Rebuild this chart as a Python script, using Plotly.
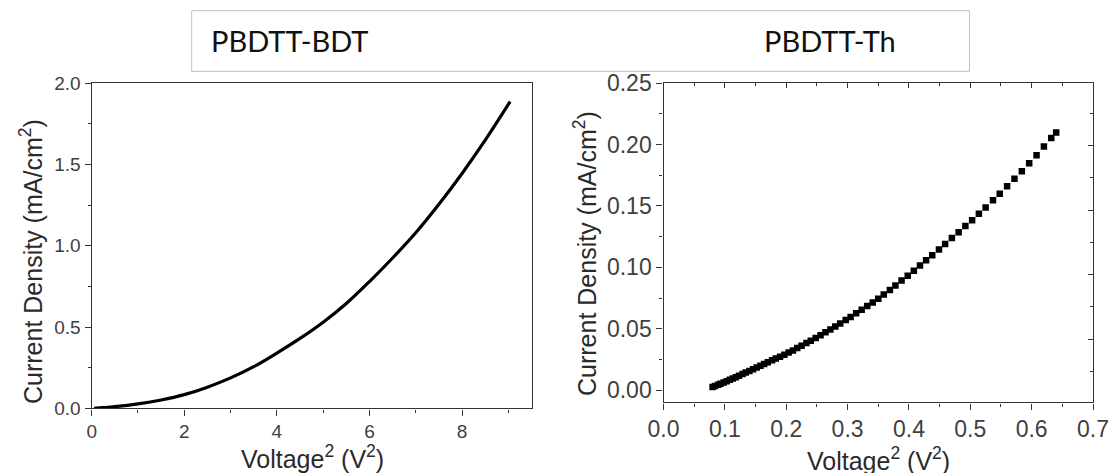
import plotly.graph_objects as go

W, H = 1112, 473

# ---- data: PBDTT-BDT (left panel) ----
bdt_x = [0.05, 0.25, 0.5, 1.0, 1.5, 2.0, 2.5, 3.0, 3.5, 4.0, 4.5, 5.0, 5.5, 6.0,
         6.5, 7.0, 7.5, 8.0, 8.5, 9.0, 9.04]
bdt_y = [0.0, 0.004, 0.010, 0.027, 0.051, 0.084, 0.130, 0.187, 0.256, 0.340, 0.430,
         0.530, 0.645, 0.780, 0.925, 1.080, 1.255, 1.445, 1.650, 1.870, 1.887]

# ---- data: PBDTT-Th (right panel) ----
th_x = [0.080, 0.084, 0.089, 0.093, 0.098, 0.103, 0.108, 0.113, 0.118, 0.123,
        0.129, 0.134, 0.140, 0.146, 0.152, 0.158, 0.164, 0.170, 0.177, 0.183,
        0.190, 0.197, 0.204, 0.211, 0.218, 0.225, 0.233, 0.240, 0.248, 0.256,
        0.264, 0.272, 0.280, 0.288, 0.297, 0.305, 0.314, 0.323, 0.332, 0.341,
        0.350, 0.359, 0.369, 0.378, 0.388, 0.398, 0.408, 0.418, 0.428, 0.438,
        0.449, 0.459, 0.470, 0.481, 0.492, 0.503, 0.514, 0.525, 0.537, 0.548,
        0.560, 0.572, 0.584, 0.596, 0.608, 0.620, 0.632, 0.640]
th_y = [0.0025, 0.0033, 0.0043, 0.0051, 0.0061, 0.0072, 0.0083, 0.0094, 0.0105, 0.0116,
        0.0130, 0.0142, 0.0156, 0.0170, 0.0184, 0.0198, 0.0212, 0.0226, 0.0242, 0.0256,
        0.0272, 0.0288, 0.0305, 0.0323, 0.0342, 0.0361, 0.0383, 0.0402, 0.0424, 0.0447,
        0.0470, 0.0494, 0.0518, 0.0543, 0.0570, 0.0596, 0.0625, 0.0655, 0.0684, 0.0714,
        0.0745, 0.0778, 0.0816, 0.0852, 0.0892, 0.0932, 0.0973, 0.1015, 0.1057, 0.1099,
        0.1146, 0.1190, 0.1239, 0.1287, 0.1336, 0.1384, 0.1436, 0.1488, 0.1546, 0.1600,
        0.1660, 0.1722, 0.1784, 0.1848, 0.1914, 0.1984, 0.2054, 0.2100]

panel_titles = ["PBDTT-BDT", "PBDTT-Th"]
x_title = "Voltage<sup>2</sup> (V<sup>2</sup>)"
y_title = "Current Density (mA/cm<sup>2</sup>)"

AX = "#333333"
TK = "#404040"
FONT = "Liberation Sans, Arial, sans-serif"


def px_x(p):
    return p / W


def px_y(p):
    return (H - p) / H


fig = go.Figure()
fig.add_trace(go.Scatter(x=bdt_x, y=bdt_y, mode="lines", line=dict(color="black", width=3.2, shape="spline"),
                         xaxis="x", yaxis="y", showlegend=False))
fig.add_trace(go.Scatter(x=th_x, y=th_y, mode="markers",
                         marker=dict(symbol="square", size=6.5, color="black", line=dict(width=0)),
                         xaxis="x2", yaxis="y2", showlegend=False))

dom1x = [px_x(91.7), px_x(531.5)]
dom1y = [px_y(408.3), px_y(83.3)]
dom2x = [px_x(663.5), px_x(1093.0)]
dom2y = [px_y(402.3), px_y(83.3)]

common = dict(showgrid=False, zeroline=False, showline=True, linecolor=AX, linewidth=1.4,
              mirror=True, ticks="outside", tickcolor=AX, tickwidth=1.2, ticklen=6)

fig.update_layout(
    width=W, height=H, margin=dict(l=0, r=0, t=0, b=0, autoexpand=False),
    paper_bgcolor="white", plot_bgcolor="white",
    font=dict(family=FONT, color=TK),
    xaxis=dict(domain=dom1x, range=[0, 9.5], dtick=2, anchor="y",
               tickfont=dict(size=19, color=TK),
               minor=dict(dtick=1, ticks="outside", ticklen=3, tickcolor=AX, tickwidth=1.2),
               **common),
    yaxis=dict(domain=dom1y, range=[0, 2.0], dtick=0.5, tickformat=".1f", anchor="x",
               tickfont=dict(size=19, color=TK),
               minor=dict(dtick=0.25, ticks="outside", ticklen=3, tickcolor=AX, tickwidth=1.2),
               **common),
    xaxis2=dict(domain=dom2x, range=[0, 0.7], dtick=0.1, tickformat=".1f", anchor="y2",
                tickfont=dict(size=23, color=TK),
                minor=dict(dtick=0.05, ticks="outside", ticklen=3, tickcolor=AX, tickwidth=1.2),
                **common),
    yaxis2=dict(domain=dom2y, range=[-0.01, 0.25], dtick=0.05, tickformat=".2f", anchor="x2",
                tickfont=dict(size=23, color=TK),
                minor=dict(dtick=0.025, ticks="outside", ticklen=3, tickcolor=AX, tickwidth=1.2),
                **common),
    # inward ticks on the top of right panel
    xaxis3=dict(domain=dom2x, range=[0, 0.7], dtick=0.1, overlaying="x2", side="top", anchor="y2",
                showticklabels=False, showgrid=False, zeroline=False, showline=False,
                ticks="inside", ticklen=5, tickcolor=AX, tickwidth=1.2,
                minor=dict(dtick=0.05, ticks="inside", ticklen=3, tickcolor=AX, tickwidth=1.2)),
    # inward ticks on the right of right panel
    yaxis3=dict(domain=dom2y, range=[0.019, 4.964], dtick=1, overlaying="y2", side="right", anchor="x2",
                showticklabels=False, showgrid=False, zeroline=False, showline=False,
                ticks="inside", ticklen=5, tickcolor=AX, tickwidth=1.2,
                minor=dict(dtick=0.5, ticks="inside", ticklen=3, tickcolor=AX, tickwidth=1.2)),
)

# dummy traces to activate overlay axes
fig.add_trace(go.Scatter(x=[None], y=[None], xaxis="x3", yaxis="y2", showlegend=False, hoverinfo="skip"))
fig.add_trace(go.Scatter(x=[None], y=[None], xaxis="x2", yaxis="y3", showlegend=False, hoverinfo="skip"))

# header box
fig.add_shape(type="rect", xref="paper", yref="paper",
              x0=px_x(191.7), x1=px_x(969.5), y0=px_y(71.3), y1=px_y(10.7),
              line=dict(color="#bfbfbf", width=1), fillcolor="rgba(0,0,0,0)")

HFONT = "Lato, Noto Sans, sans-serif"
fig.add_annotation(text=panel_titles[0], xref="paper", yref="paper", x=px_x(209), y=px_y(41),
                   xanchor="left", yanchor="middle", showarrow=False,
                   font=dict(family=HFONT, size=29, color="#111111"))
fig.add_annotation(text=panel_titles[1], xref="paper", yref="paper", x=px_x(762), y=px_y(41),
                   xanchor="left", yanchor="middle", showarrow=False,
                   font=dict(family=HFONT, size=29, color="#111111"))

TITLE_FONT = dict(family=FONT, size=25, color="#2a2a2a")
# axis titles
fig.add_annotation(text=y_title, xref="paper", yref="paper", x=px_x(31), y=px_y(262),
                   textangle=-90, showarrow=False, xanchor="center", yanchor="middle", font=TITLE_FONT)
fig.add_annotation(text=y_title, xref="paper", yref="paper", x=px_x(585), y=px_y(254),
                   textangle=-90, showarrow=False, xanchor="center", yanchor="middle", font=TITLE_FONT)
fig.add_annotation(text=x_title, xref="paper", yref="paper", x=px_x(312), y=px_y(457),
                   showarrow=False, xanchor="center", yanchor="middle", font=TITLE_FONT)
fig.add_annotation(text=x_title, xref="paper", yref="paper", x=px_x(878), y=px_y(459),
                   showarrow=False, xanchor="center", yanchor="middle", font=TITLE_FONT)

fig.write_html("out.html", config={"displayModeBar": False},
               post_script="document.body.style.margin='0';document.body.style.overflow='hidden';")
